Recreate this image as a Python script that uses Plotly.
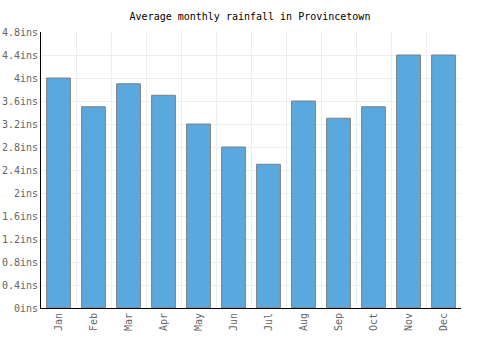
import plotly.graph_objects as go

months = ["Jan", "Feb", "Mar", "Apr", "May", "Jun", "Jul", "Aug", "Sep", "Oct", "Nov", "Dec"]
rainfall = [4.0, 3.5, 3.9, 3.7, 3.2, 2.8, 2.5, 3.6, 3.3, 3.5, 4.4, 4.4]
y_ticks = [0, 0.4, 0.8, 1.2, 1.6, 2, 2.4, 2.8, 3.2, 3.6, 4, 4.4, 4.8]
y_labels = ["0ins", "0.4ins", "0.8ins", "1.2ins", "1.6ins", "2ins", "2.4ins", "2.8ins",
            "3.2ins", "3.6ins", "4ins", "4.4ins", "4.8ins"]

font = "DejaVu Sans Mono, monospace"

fig = go.Figure(go.Bar(
    x=months, y=rainfall,
    marker=dict(color="#59a8de", line=dict(color="#808080", width=1)),
))

fig.update_layout(
    width=500, height=350,
    margin=dict(l=41, r=39, t=32, b=42, autoexpand=False),
    paper_bgcolor="white", plot_bgcolor="white",
    bargap=0.32,
    showlegend=False,
    title=dict(text="Average monthly rainfall in Provincetown", x=0.5, xanchor="center",
               y=1 - 16 / 350, yanchor="middle",
               font=dict(family=font, size=10, color="black")),
    font=dict(family=font, size=10, color="#666"),
)
fig.update_xaxes(
    tickangle=-90, tickson="boundaries", showgrid=True, gridcolor="#eeeeee",
    showline=True, linecolor="black", linewidth=1, ticks="", automargin=False,
    tickfont=dict(family=font, size=10, color="#666"),
)
fig.update_yaxes(
    range=[0, 4.8], tickvals=y_ticks, ticktext=y_labels,
    showgrid=True, gridcolor="#eeeeee", zeroline=False, automargin=False,
    showline=True, linecolor="black", linewidth=1, ticks="",
    tickfont=dict(family=font, size=10, color="#666"),
)

fig.write_html("out.html")
